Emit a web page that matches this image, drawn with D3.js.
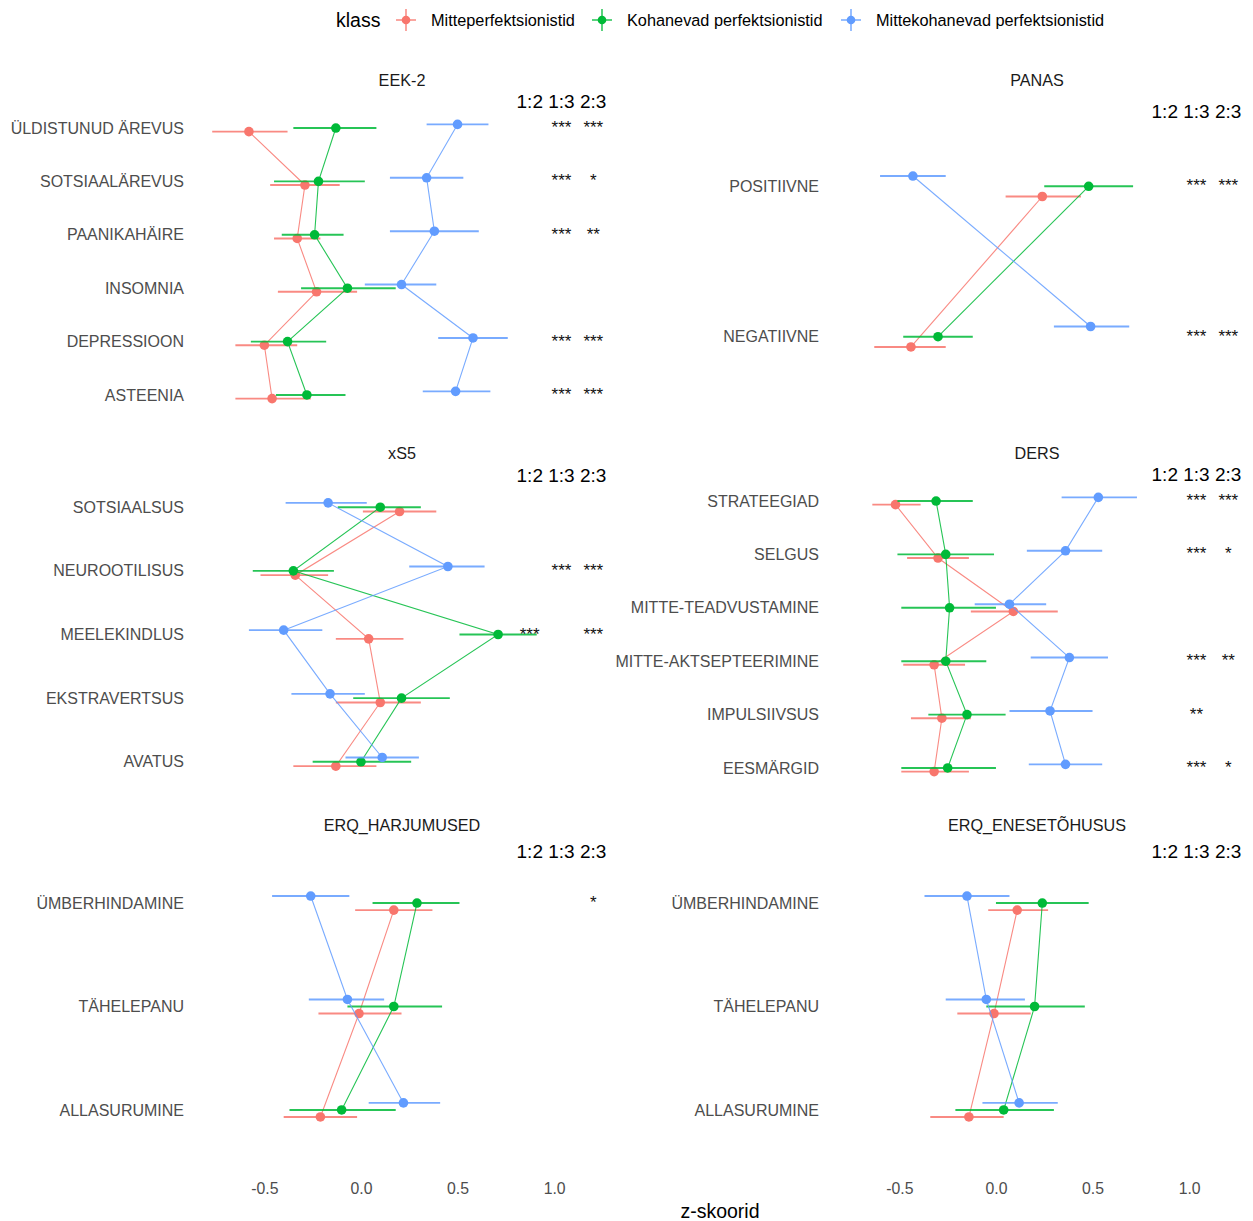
<!DOCTYPE html>
<html>
<head>
<meta charset="utf-8">
<script src="https://cdn.jsdelivr.net/npm/d3@7"></script>
<style>
  html, body { margin: 0; padding: 0; background: #ffffff; }
  svg { display: block; font-family: "Liberation Sans", Arial, sans-serif; }
</style>
</head>
<body>
<svg id="chart" width="1253" height="1221"></svg>
<script>
// Classes (latent profiles) and their colours
const classes = ["Mitteperfektsionistid", "Kohanevad perfektsionistid", "Mittekohanevad perfektsionistid"];
const classColors = ["#F8766D", "#00BA38", "#619CFF"];
const pairLabels = ["1:2", "1:3", "2:3"];
const xTicks = [-0.5, 0, 0.5, 1.0];

// EEK-2 — rows: class 1, 2, 3
const eekItems = ["ÜLDISTUNUD ÄREVUS", "SOTSIAALÄREVUS", "PAANIKAHÄIRE", "INSOMNIA", "DEPRESSIOON", "ASTEENIA"];
const eekMean = [[-0.58, -0.29, -0.33, -0.23, -0.50, -0.46],
                 [-0.13, -0.22, -0.24, -0.07, -0.38, -0.28],
                 [ 0.50,  0.34,  0.38,  0.21,  0.58,  0.49]];
const eekLow  = [[-0.77, -0.47, -0.45, -0.43, -0.65, -0.65],
                 [-0.35, -0.45, -0.41, -0.31, -0.57, -0.44],
                 [ 0.34,  0.15,  0.15,  0.02,  0.40,  0.32]];
const eekHigh = [[-0.38, -0.11, -0.21, -0.02, -0.33, -0.26],
                 [ 0.08,  0.02, -0.09,  0.18, -0.18, -0.08],
                 [ 0.66,  0.53,  0.61,  0.39,  0.76,  0.67]];
const eekSig  = [["", "***", "***"], ["", "***", "*"], ["", "***", "**"], ["", "", ""], ["", "***", "***"], ["", "***", "***"]];

// PANAS
const panasItems = ["POSITIIVNE", "NEGATIIVNE"];
const panasMean = [[ 0.24, -0.44], [ 0.48, -0.30], [-0.43,  0.49]];
const panasLow  = [[ 0.05, -0.63], [ 0.25, -0.48], [-0.60,  0.30]];
const panasHigh = [[ 0.44, -0.26], [ 0.71, -0.12], [-0.26,  0.69]];
const panasSig  = [["", "***", "***"], ["", "***", "***"]];

// xS5
const xs5Items = ["SOTSIAALSUS", "NEUROOTILISUS", "MEELEKINDLUS", "EKSTRAVERTSUS", "AVATUS"];
const xs5Mean = [[ 0.20, -0.34,  0.04,  0.10, -0.13],
                 [ 0.10, -0.35,  0.71,  0.21,  0.00],
                 [-0.17,  0.45, -0.40, -0.16,  0.11]];
const xs5Low  = [[ 0.01, -0.52, -0.13, -0.13, -0.35],
                 [-0.12, -0.56,  0.51, -0.04, -0.25],
                 [-0.39,  0.25, -0.58, -0.36, -0.08]];
const xs5High = [[ 0.39, -0.17,  0.22,  0.31,  0.08],
                 [ 0.31, -0.14,  0.91,  0.46,  0.26],
                 [ 0.03,  0.64, -0.20,  0.02,  0.30]];
const xs5Sig  = [["", "", ""], ["", "***", "***"], ["***", "", "***"], ["", "", ""], ["", "", ""]];

// DERS
const dersItems = ["STRATEEGIAD", "SELGUS", "MITTE-TEADVUSTAMINE", "MITTE-AKTSEPTEERIMINE", "IMPULSIIVSUS", "EESMÄRGID"];
const dersMean = [[-0.52, -0.30,  0.09, -0.32, -0.28, -0.32],
                  [-0.31, -0.26, -0.24, -0.26, -0.15, -0.25],
                  [ 0.53,  0.36,  0.07,  0.38,  0.28,  0.36]];
const dersLow  = [[-0.64, -0.46, -0.13, -0.48, -0.44, -0.49],
                  [-0.51, -0.51, -0.49, -0.49, -0.35, -0.49],
                  [ 0.34,  0.16, -0.11,  0.18,  0.07,  0.17]];
const dersHigh = [[-0.39, -0.14,  0.32, -0.16, -0.13, -0.14],
                  [-0.12, -0.01,  0.00, -0.05,  0.05,  0.00],
                  [ 0.73,  0.55,  0.26,  0.58,  0.50,  0.55]];
const dersSig  = [["", "***", "***"], ["", "***", "*"], ["", "", ""], ["", "***", "**"], ["", "**", ""], ["", "***", "*"]];

// ERQ — habits and self-efficacy
const erqItems = ["ÜMBERHINDAMINE", "TÄHELEPANU", "ALLASURUMINE"];
const erqHMean = [[ 0.17, -0.01, -0.21], [ 0.29,  0.17, -0.10], [-0.26, -0.07,  0.22]];
const erqHLow  = [[-0.03, -0.22, -0.40], [ 0.06, -0.07, -0.37], [-0.46, -0.27,  0.04]];
const erqHHigh = [[ 0.37,  0.21, -0.02], [ 0.51,  0.42,  0.18], [-0.06,  0.12,  0.41]];
const erqHSig  = [["", "", "*"], ["", "", ""], ["", "", ""]];

const erqEMean = [[ 0.11, -0.01, -0.14], [ 0.24,  0.20,  0.04], [-0.15, -0.05,  0.12]];
const erqELow  = [[-0.04, -0.20, -0.34], [ 0.00, -0.05, -0.21], [-0.37, -0.26, -0.07]];
const erqEHigh = [[ 0.27,  0.18,  0.04], [ 0.48,  0.46,  0.30], [ 0.07,  0.15,  0.32]];
const erqESig  = [["", "", ""], ["", "", ""], ["", "", ""]];

// Facet table built from the arrays above
const panels = [
  { title: "EEK-2", items: eekItems, mean: eekMean, low: eekLow, high: eekHigh, sig: eekSig, col: 0, row: 0 },
  { title: "PANAS", items: panasItems, mean: panasMean, low: panasLow, high: panasHigh, sig: panasSig, col: 1, row: 0 },
  { title: "xS5", items: xs5Items, mean: xs5Mean, low: xs5Low, high: xs5High, sig: xs5Sig, col: 0, row: 1 },
  { title: "DERS", items: dersItems, mean: dersMean, low: dersLow, high: dersHigh, sig: dersSig, col: 1, row: 1 },
  { title: "ERQ_HARJUMUSED", items: erqItems, mean: erqHMean, low: erqHLow, high: erqHHigh, sig: erqHSig, col: 0, row: 2 },
  { title: "ERQ_ENESETÕHUSUS", items: erqItems, mean: erqEMean, low: erqELow, high: erqEHigh, sig: erqESig, col: 1, row: 2 }
];

// Layout
const colRanges = [[190, 614], [825, 1249]];
const rowRanges = [[96, 427], [469, 800], [841, 1172]];
const xDomain = [-0.885, 1.31];
const pairX = [0.873, 1.038, 1.203];
const dodgeFrac = 0.068;

const svg = d3.select("#chart");

panels.forEach(p => {
  const x = d3.scaleLinear().domain(xDomain).range(colRanges[p.col]);
  const y = d3.scalePoint().domain(p.items).range(rowRanges[p.row]).padding(0.6);
  const step = y.step();
  const dodge = [dodgeFrac * step, 0, -dodgeFrac * step];
  const g = svg.append("g");

  // strip title
  g.append("text")
    .attr("x", (colRanges[p.col][0] + colRanges[p.col][1]) / 2)
    .attr("y", rowRanges[p.row][0] - 16)
    .attr("text-anchor", "middle")
    .attr("dominant-baseline", "central")
    .attr("font-size", 16.2)
    .attr("fill", "#1a1a1a")
    .text(p.title);

  // y-axis labels
  const yAxis = d3.axisLeft(y).tickSize(0).tickPadding(6);
  const ya = g.append("g")
    .attr("transform", `translate(${colRanges[p.col][0]},0)`)
    .call(yAxis);
  ya.select(".domain").remove();
  ya.selectAll("text")
    .attr("font-size", 16)
    .attr("fill", "#4d4d4d")
    .attr("font-family", "Liberation Sans, Arial, sans-serif");

  // pair-comparison header
  g.append("text")
    .attr("x", x(pairX[1]))
    .attr("y", y(p.items[0]) - step / 2)
    .attr("text-anchor", "middle")
    .attr("dominant-baseline", "central")
    .attr("font-size", 19)
    .attr("fill", "#000")
    .text(pairLabels.join(" "));

  // error bars, connecting lines, points per class
  classes.forEach((c, k) => {
    const pts = p.items.map((it, i) => ({
      item: it, m: p.mean[k][i], lo: p.low[k][i], hi: p.high[k][i], yy: y(it) + dodge[k]
    }));
    const cg = g.append("g");
    cg.selectAll("line.err").data(pts).join("line")
      .attr("class", "err")
      .attr("x1", d => x(d.lo)).attr("x2", d => x(d.hi))
      .attr("y1", d => d.yy).attr("y2", d => d.yy)
      .attr("stroke", classColors[k]).attr("stroke-width", 1.9).attr("stroke-opacity", 0.85);
    cg.append("path")
      .datum(pts)
      .attr("d", d3.line().x(d => x(d.m)).y(d => d.yy))
      .attr("fill", "none")
      .attr("stroke", classColors[k]).attr("stroke-width", 1.1).attr("stroke-opacity", 0.85);
    cg.selectAll("circle").data(pts).join("circle")
      .attr("cx", d => x(d.m)).attr("cy", d => d.yy).attr("r", 4.8)
      .attr("fill", classColors[k]);
  });

  // significance stars
  p.items.forEach((it, i) => {
    p.sig[i].forEach((s, j) => {
      if (!s) return;
      g.append("text")
        .attr("x", x(pairX[j]))
        .attr("y", y(it) + 5)
        .attr("text-anchor", "middle")
        .attr("font-size", 17)
        .attr("fill", "#111")
        .text(s);
    });
  });

  // bottom axis on the last row
  if (p.row === 2) {
    const xa = g.append("g")
      .attr("transform", `translate(0,${rowRanges[2][1]})`)
      .call(d3.axisBottom(x).tickValues(xTicks).tickSize(0).tickPadding(11).tickFormat(d3.format(".1f")));
    xa.select(".domain").remove();
    xa.selectAll("text")
      .attr("font-size", 15.8)
      .attr("fill", "#4d4d4d")
      .attr("font-family", "Liberation Sans, Arial, sans-serif")
      .text(d => d3.format(".1f")(d).replace("−", "-"));
  }
});

// x-axis title
svg.append("text")
  .attr("x", 720).attr("y", 1211)
  .attr("text-anchor", "middle").attr("dominant-baseline", "central")
  .attr("font-size", 19.5).attr("fill", "#000")
  .text("z-skoorid");

// legend
const legend = svg.append("g");
legend.append("text")
  .attr("x", 336).attr("y", 20)
  .attr("dominant-baseline", "central")
  .attr("font-size", 19.5).attr("fill", "#000")
  .text("klass");
const keyX = [406, 602, 851];
classes.forEach((c, k) => {
  const kg = legend.append("g").attr("transform", `translate(${keyX[k]},20)`);
  kg.append("line").attr("x1", -10).attr("x2", 10).attr("y1", 0).attr("y2", 0)
    .attr("stroke", classColors[k]).attr("stroke-width", 1.3);
  kg.append("line").attr("x1", 0).attr("x2", 0).attr("y1", -11).attr("y2", 11)
    .attr("stroke", classColors[k]).attr("stroke-width", 1.3);
  kg.append("circle").attr("r", 4.3).attr("fill", classColors[k]);
  legend.append("text")
    .attr("x", keyX[k] + 25).attr("y", 20)
    .attr("dominant-baseline", "central")
    .attr("font-size", 16.3).attr("fill", "#000")
    .text(c);
});
</script>
</body>
</html>
